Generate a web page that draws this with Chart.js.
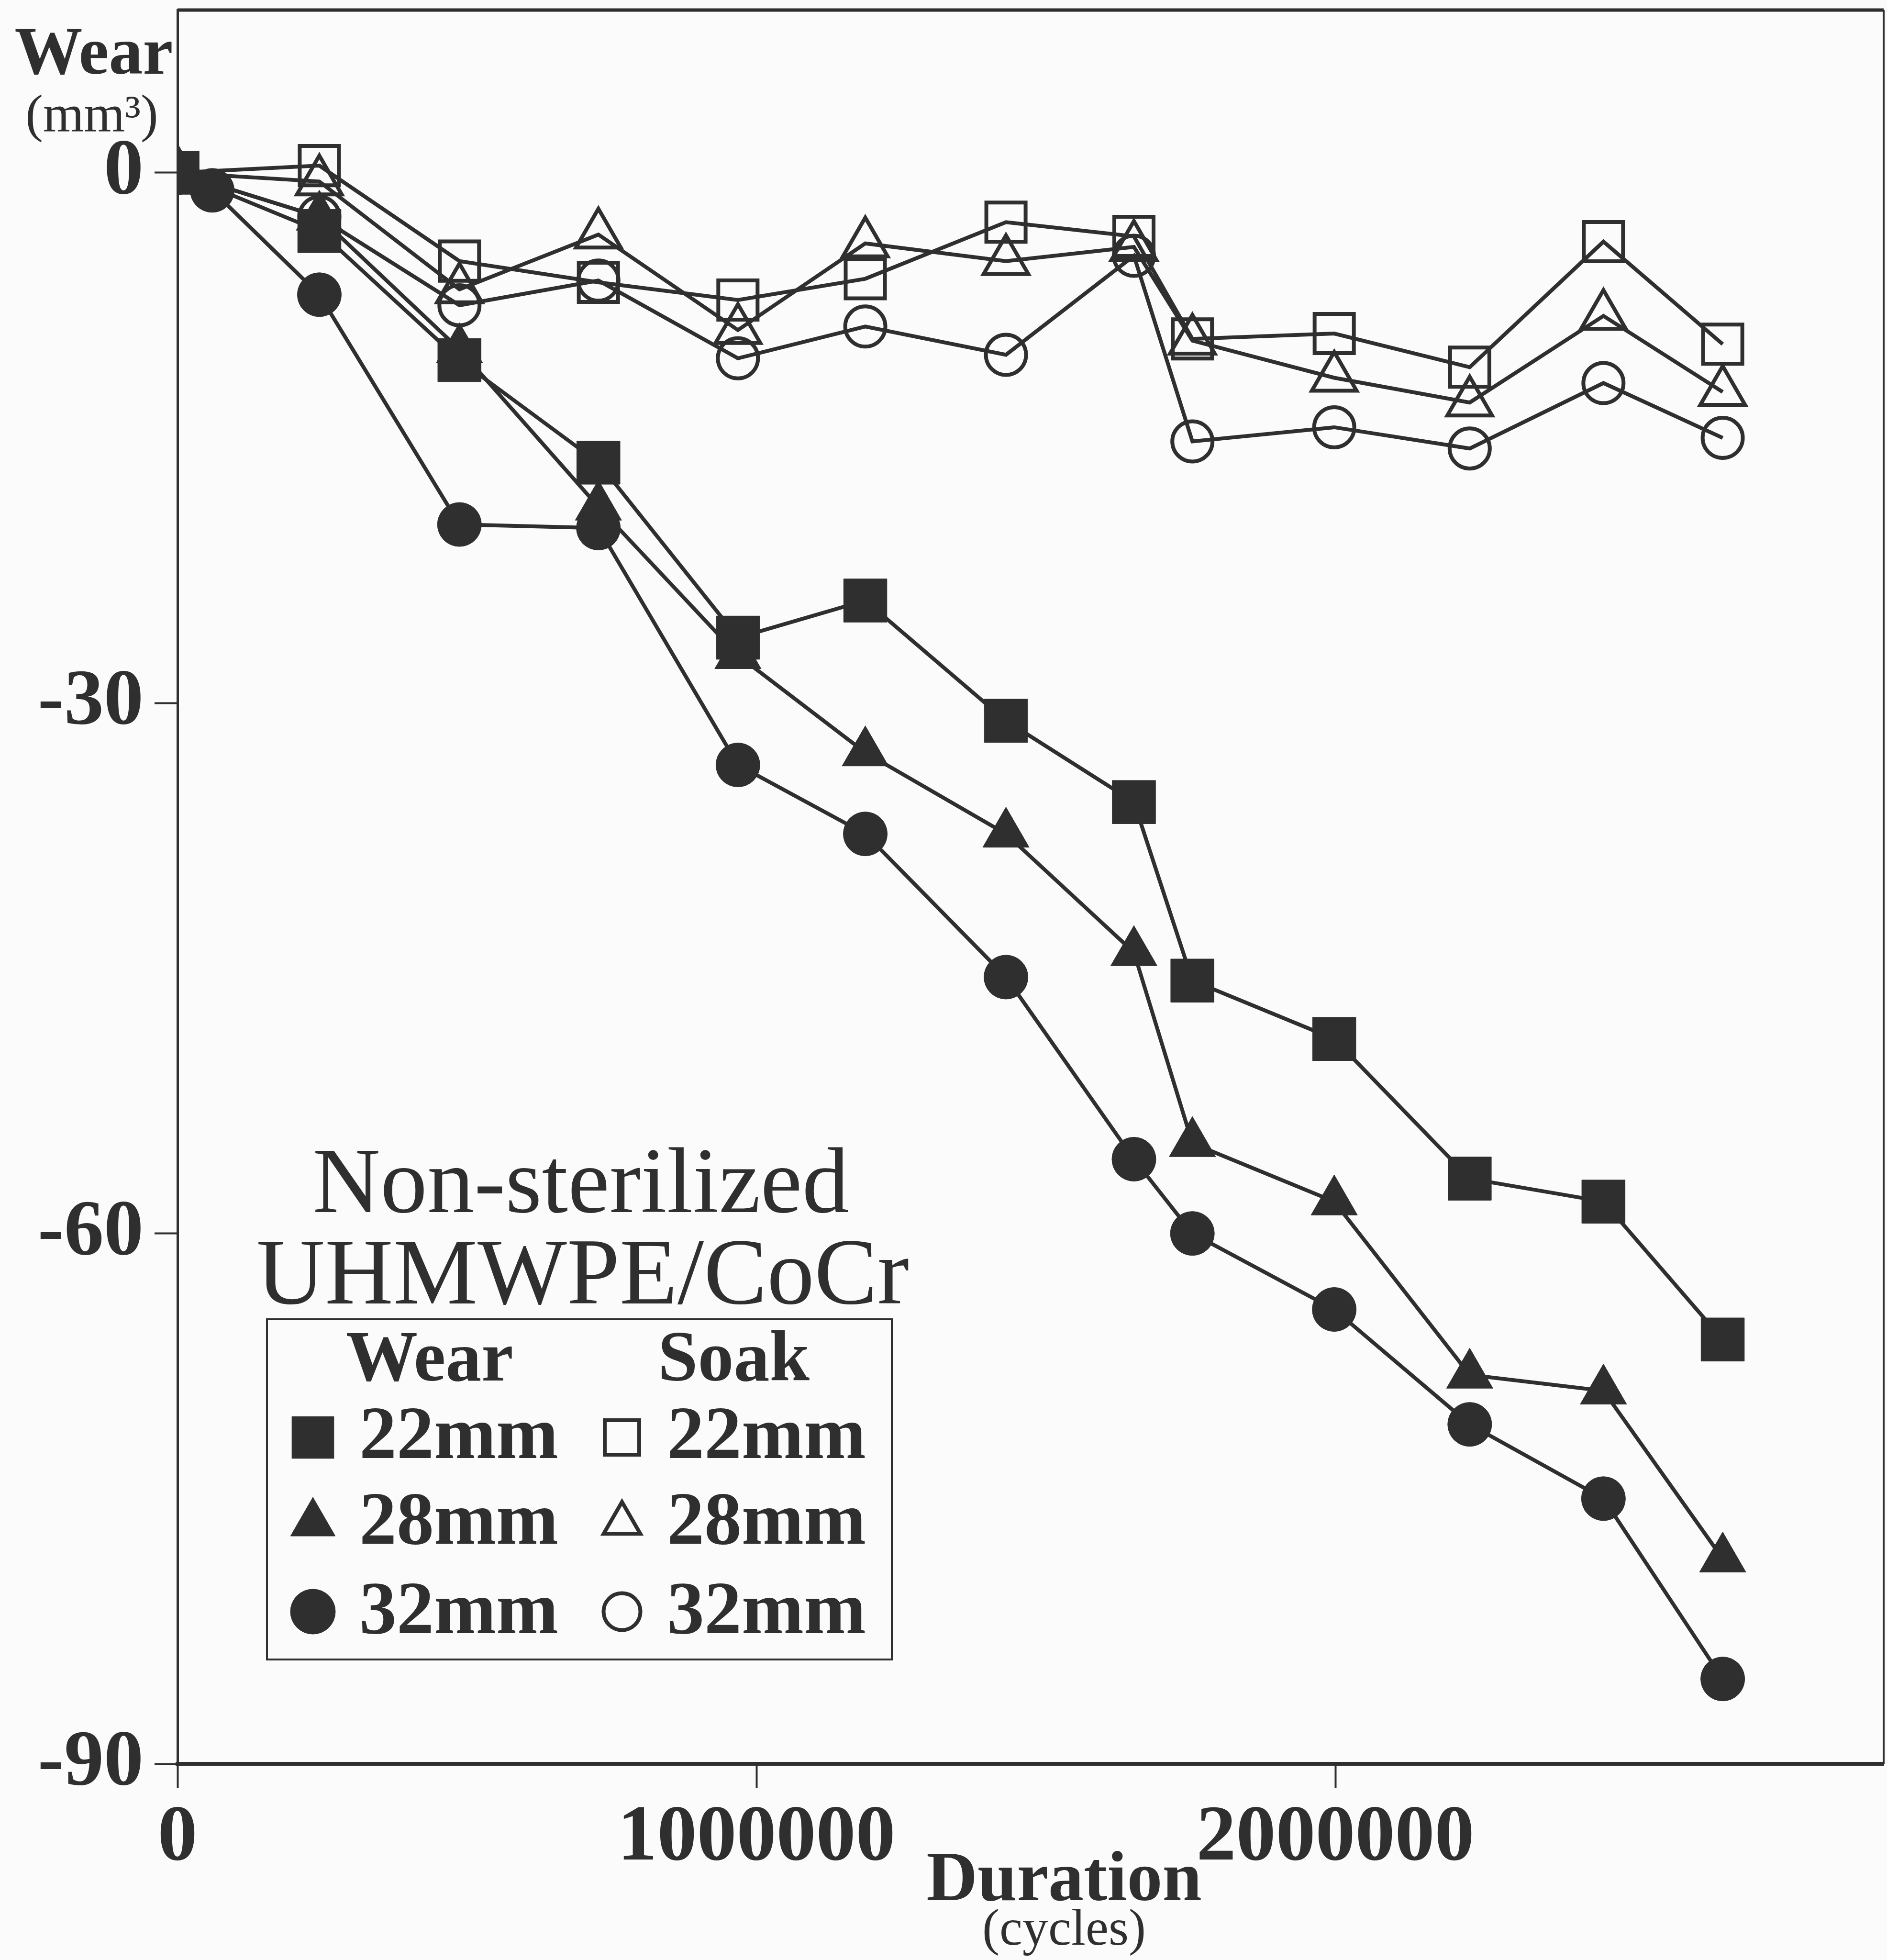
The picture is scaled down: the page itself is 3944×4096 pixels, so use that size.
<!DOCTYPE html>
<html>
<head>
<meta charset="utf-8">
<title>Non-sterilized UHMWPE/CoCr wear</title>
<script src="https://cdn.jsdelivr.net/npm/chart.js@4.4.1/dist/chart.umd.min.js"></script>
<style>
  html, body { margin: 0; padding: 0; background: #fbfbfb; }
  #wrap { width: 3944px; height: 4096px; }
</style>
</head>
<body>
<div id="wrap"><canvas id="myChart" width="3944" height="4096" style="width:3944px;height:4096px"></canvas></div>
<script>
// duration (cycles) at each measurement
const cycles = [0, 245000, 487000, 727000, 968000, 1188000, 1431000, 1652000, 1753000, 1998000, 2232000, 2463000, 2669000];
const cycles32 = [0, 60000, 245000, 487000, 727000, 968000, 1188000, 1431000, 1652000, 1753000, 1998000, 2232000, 2463000, 2669000];

// wear (mm3), wear stations
const wear22 = [0, -3.3, -10.6, -16.4, -26.3, -24.2, -31.0, -35.6, -45.7, -49.0, -56.9, -58.2, -66.0];
const wear28 = [0, -2.5, -10.0, -18.9, -27.3, -32.8, -37.4, -44.1, -54.9, -58.2, -68.0, -68.9, -78.4];
const wear32 = [0, -1.0, -6.9, -19.9, -20.1, -33.5, -37.4, -45.5, -55.8, -60.0, -64.3, -70.8, -75.0, -85.2];

// soak controls
const soak22 = [0, 0.4, -5.0, -6.2, -7.2, -6.0, -2.8, -3.6, -9.4, -9.1, -11.0, -3.9, -9.7];
const soak28 = [0, -0.5, -6.6, -3.5, -8.9, -4.0, -5.0, -4.2, -9.5, -11.6, -13.0, -8.1, -12.4];
const soak32 = [0, -2.5, -7.5, -6.1, -10.5, -8.7, -10.3, -4.7, -15.2, -14.4, -15.6, -11.9, -15.0];

const xTickValues = [0, 1000000, 2000000];
const yTickValues = [0, -30, -60, -90];

const ink = '#2f2f2f';
const serif = '"Liberation Serif", "DejaVu Serif", serif';
const none = 'rgba(0,0,0,0)';

function pts(xs, ys) {
  return ys.map((v, i) => ({ x: xs[i], y: v }));
}

function series(label, xs, ys, style, filled, r) {
  return {
    label: label,
    data: pts(xs, ys),
    borderColor: ink,
    borderWidth: 8,
    pointStyle: style,
    pointRadius: r,
    pointHoverRadius: r,
    pointBorderColor: ink,
    pointBorderWidth: filled ? 1 : 8,
    pointBackgroundColor: filled ? ink : none,
    tension: 0,
    fill: false
  };
}

// first dataset ends up on top
let dataset = [
  series('Wear 22mm', cycles, wear22, 'rect', true, 64),
  series('Wear 28mm', cycles, wear28, 'triangle', true, 56),
  series('Wear 32mm', cycles32, wear32, 'circle', true, 46),
  series('Soak 22mm', cycles, soak22, 'rect', false, 58),
  series('Soak 28mm', cycles, soak28, 'triangle', false, 54),
  series('Soak 32mm', cycles, soak32, 'circle', false, 42)
];

function text(ctx, s, x, y, font, align) {
  ctx.font = font;
  ctx.textAlign = align || 'left';
  ctx.textBaseline = 'alphabetic';
  ctx.fillText(s, x, y);
}

function marker(ctx, style, r, filled, x, y) {
  ctx.save();
  ctx.fillStyle = filled ? ink : none;
  ctx.strokeStyle = ink;
  ctx.lineWidth = filled ? 1 : 8;
  Chart.helpers.drawPoint(ctx, { pointStyle: style, radius: r, rotation: 0, borderWidth: filled ? 1 : 8 }, x, y);
  ctx.restore();
}

// no extra room for tick labels, the plot box is fixed
function noPad(s) {
  s.paddingTop = 0;
  s.paddingBottom = 0;
  s.paddingLeft = 0;
  s.paddingRight = 0;
}

const paper = {
  id: 'paper',
  beforeDraw(chart) {
    const c = chart.ctx;
    c.save();
    c.fillStyle = '#fbfbfb';
    c.fillRect(0, 0, chart.width, chart.height);
    c.restore();
  },
  afterDraw(chart) {
    const c = chart.ctx;
    const a = chart.chartArea;
    c.save();
    c.strokeStyle = ink;
    // top and right frame
    c.lineWidth = 7;
    c.beginPath();
    c.moveTo(a.left, a.top);
    c.lineTo(a.right, a.top);
    c.stroke();
    c.lineWidth = 4;
    c.beginPath();
    c.moveTo(a.right, a.top);
    c.lineTo(a.right, a.bottom);
    c.stroke();

    c.fillStyle = ink;
    // axis titles
    text(c, 'Wear', 196, 154, 'bold 142px ' + serif, 'center');
    text(c, '(mm\u00B3)', 192, 274, '110px ' + serif, 'center');
    text(c, 'Duration', 2224, 3971, 'bold 148px ' + serif, 'center');
    text(c, '(cycles)', 2224, 4064, '108px ' + serif, 'center');

    // title
    text(c, 'Non-sterilized', 1214, 2533, '196px ' + serif, 'center');
    text(c, 'UHMWPE/CoCr', 1218, 2724, '198px ' + serif, 'center');

    // legend box
    c.lineWidth = 4;
    c.strokeRect(558, 2757, 1306, 711);
    text(c, 'Wear', 723, 2885, 'bold 150px ' + serif, 'left');
    text(c, 'Soak', 1375, 2885, 'bold 150px ' + serif, 'left');
    const rows = [
      { y: 3047, my: 3004, style: 'rect', r: 62, lab: '22mm' },
      { y: 3226, my: 3183, style: 'triangle', r: 54, lab: '28mm' },
      { y: 3413, my: 3368, style: 'circle', r: 47, lab: '32mm' }
    ];
    rows.forEach(row => {
      marker(c, row.style, row.r, true, 654, row.my);
      marker(c, row.style, row.r * 0.82, false, 1300, row.my);
      c.fillStyle = ink;
      text(c, row.lab, 751, row.y, 'bold 156px ' + serif, 'left');
      text(c, row.lab, 1394, row.y, 'bold 156px ' + serif, 'left');
    });
    c.restore();
  }
};

const ctx = document.getElementById('myChart');

var myChart = new Chart(ctx, {
  type: 'line',
  data: { datasets: dataset },
  options: {
    responsive: false,
    animation: false,
    devicePixelRatio: 1,
    events: [],
    layout: { autoPadding: false, padding: { top: 21, right: 7, left: 0, bottom: 0 } },
    plugins: {
      legend: { display: false },
      tooltip: { enabled: false },
      title: { display: false }
    },
    scales: {
      x: {
        type: 'linear',
        min: 0,
        max: 2947000,
        afterBuildTicks: s => { s.ticks = xTickValues.map(v => ({ value: v })); },
        afterFit: s => { s.height = 410; noPad(s); },
        grid: { drawOnChartArea: false, drawTicks: true, tickLength: 50, tickWidth: 4, tickColor: ink },
        border: { display: true, color: ink, width: 8 },
        ticks: {
          color: ink,
          padding: 24,
          maxRotation: 0,
          autoSkip: false,
          font: { family: serif, size: 166, weight: 'bold', lineHeight: 1 },
          callback: v => String(v)
        }
      },
      y: {
        type: 'linear',
        min: -90,
        max: 9.2,
        afterBuildTicks: s => { s.ticks = yTickValues.map(v => ({ value: v })); },
        afterFit: s => { s.width = 371; noPad(s); },
        grid: { drawOnChartArea: false, drawTicks: true, tickLength: 48, tickWidth: 4, tickColor: ink },
        border: { display: true, color: ink, width: 5 },
        ticks: {
          color: ink,
          padding: 23,
          autoSkip: false,
          font: { family: serif, size: 166, weight: 'bold', lineHeight: 1 },
          callback: v => String(v)
        }
      }
    }
  },
  plugins: [paper]
});
</script>
</body>
</html>
